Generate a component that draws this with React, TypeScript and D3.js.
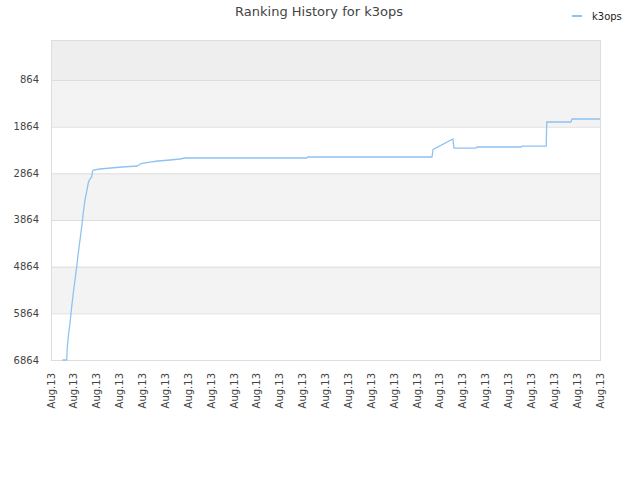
import React from "react";
import * as d3 from "d3";

const title = "Ranking History for k3ops";
const seriesName = "k3ops";
const xTickLabels = Array.from({ length: 25 }, () => "Aug.13");
const yTicks = [864, 1864, 2864, 3864, 4864, 5864, 6864];
const xs = [2.06, 2.86, 2.97, 3.22, 3.46, 3.77, 4.06, 4.37, 4.68, 4.97, 5.28, 5.59, 5.88, 6.19, 6.49, 6.79, 6.98, 7.41, 7.6, 7.7, 8.93, 12.93, 15.7, 16.4, 18.0, 19.5, 21.7, 23.5, 24.4, 46.6, 46.8, 69.4, 69.6, 73.2, 73.4, 77.4, 77.6, 85.6, 85.8, 90.2, 90.3, 94.7, 94.9, 100];
const ranks = [6864, 6864, 6580, 6286, 6072, 5722, 5429, 5150, 4865, 4571, 4293, 4008, 3714, 3436, 3258, 3072, 3007, 2936, 2808, 2793, 2771, 2728, 2707, 2654, 2622, 2600, 2578, 2557, 2536, 2536, 2514, 2514, 2353, 2128, 2322, 2322, 2300, 2300, 2279, 2279, 1764, 1764, 1700, 1700];

export default function App() {
  const W = 640, H = 480;
  const left = 51, right = 600, top = 40, bottom = 360;
  const x = d3.scaleLinear().domain([0, 100]).range([left, right]);
  const y = d3.scaleLinear().domain([7, 6864]).range([top, bottom]);
  const line = d3.line<number>().x((_, i) => x(xs[i])).y((d) => y(d));
  const xTickVals = xTickLabels.map((_, i) => (i * 100) / (xTickLabels.length - 1));
  const font = "'DejaVu Sans', sans-serif";
  const bands: { y0: number; y1: number; fill: string }[] = [];
  bands.push({ y0: top, y1: y(yTicks[0]), fill: "#eeeeee" });
  for (let i = 0; i < yTicks.length - 1; i++) {
    bands.push({ y0: y(yTicks[i]), y1: y(yTicks[i + 1]), fill: i % 2 === 0 ? "#f3f3f3" : "#ffffff" });
  }
  return (
    <svg width={W} height={H} style={{ position: "absolute", left: 0, top: 0, background: "#fff" }}>
      {bands.map((b, i) => (
        <rect key={i} x={left} y={b.y0} width={right - left} height={b.y1 - b.y0} fill={b.fill} />
      ))}
      {yTicks.map((t) => (
        <line key={t} x1={left} x2={right} y1={y(t) + 0.5} y2={y(t) + 0.5} stroke="#dddddd" />
      ))}
      <rect x={left + 0.5} y={top + 0.5} width={right - left} height={bottom - top} fill="none" stroke="#dddddd" />
      <path d={line(ranks) ?? ""} fill="none" stroke="#8fc2f2" strokeWidth={1.3} />
      {yTicks.map((t) => (
        <text key={t} x={39} y={y(t)} dy="0.35em" textAnchor="end" fontFamily={font} fontSize={10} fill="#444">
          {t}
        </text>
      ))}
      {xTickVals.map((v, i) => (
        <text key={i} transform={`translate(${x(v) + 3.5},373) rotate(-90)`} textAnchor="end" fontFamily={font} fontSize={10} fill="#444">
          {xTickLabels[i]}
        </text>
      ))}
      <text x={319} y={16} textAnchor="middle" fontFamily={font} fontSize={13} fill="#444">
        {title}
      </text>
      <line x1={572} x2={582} y1={16} y2={16} stroke="#8fc2f2" strokeWidth={2} />
      <text x={592} y={16} dy="0.35em" fontFamily={font} fontSize={10} fill="#222">
        {seriesName}
      </text>
    </svg>
  );
}
